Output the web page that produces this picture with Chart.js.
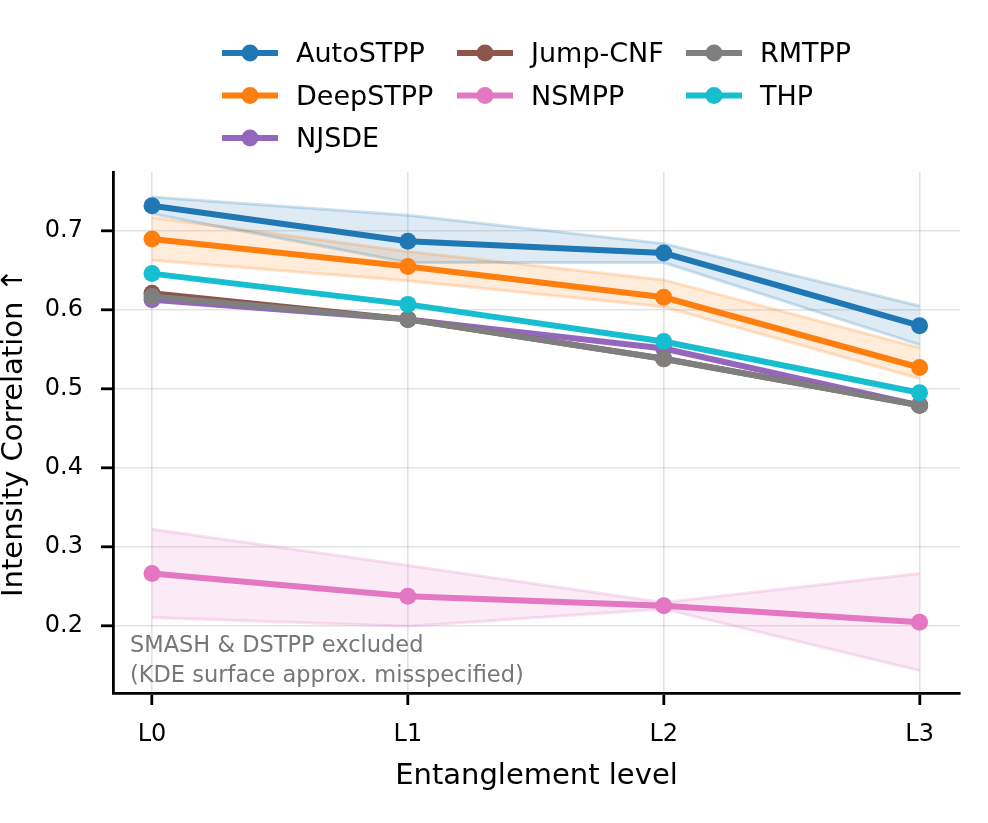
<!DOCTYPE html>
<html>
<head>
<meta charset="utf-8">
<script src="https://cdn.jsdelivr.net/npm/chart.js@4.4.1/dist/chart.umd.min.js"></script>
<style>
  body { margin: 0; background: #fff; }
  #wrap { width: 988px; height: 823px; }
</style>
</head>
<body>
<div id="wrap"><canvas id="chart" width="988" height="823"></canvas></div>
<script>
// Valores
const levels = ['L0', 'L1', 'L2', 'L3'];
const yTicks = [0.2, 0.3, 0.4, 0.5, 0.6, 0.7];

const autoSTPP     = [0.732, 0.687, 0.672, 0.580];
const autoSTPPLow  = [0.722, 0.660, 0.660, 0.556];
const autoSTPPHigh = [0.743, 0.720, 0.684, 0.605];

const deepSTPP     = [0.690, 0.655, 0.616, 0.527];
const deepSTPPLow  = [0.663, 0.637, 0.604, 0.513];
const deepSTPPHigh = [0.717, 0.674, 0.638, 0.552];

const njsde   = [0.613, 0.588, 0.551, 0.479];
const jumpCNF = [0.621, 0.588, 0.538, 0.479];

const nsmpp     = [0.266, 0.237, 0.225, 0.204];
const nsmppLow  = [0.210, 0.199, 0.221, 0.143];
const nsmppHigh = [0.322, 0.276, 0.229, 0.266];

const rmtpp = [0.617, 0.588, 0.538, 0.479];
const thp   = [0.646, 0.607, 0.560, 0.495];

const noteLines = ['SMASH & DSTPP excluded', '(KDE surface approx. misspecified)'];

const methods = [
    { name: 'AutoSTPP',  values: autoSTPP, low: autoSTPPLow, high: autoSTPPHigh, color: [31, 119, 180] },
    { name: 'DeepSTPP',  values: deepSTPP, low: deepSTPPLow, high: deepSTPPHigh, color: [255, 127, 14] },
    { name: 'NJSDE',     values: njsde,    color: [148, 103, 189] },
    { name: 'Jump-CNF',  values: jumpCNF,  color: [140, 86, 75] },
    { name: 'NSMPP',     values: nsmpp,    low: nsmppLow, high: nsmppHigh, color: [227, 119, 194] },
    { name: 'RMTPP',     values: rmtpp,    color: [127, 127, 127] },
    { name: 'THP',       values: thp,      color: [23, 190, 207] }
];

const FONT = '"DejaVu Sans", "Liberation Sans", sans-serif';

function rgba(c, a) {
    return `rgba(${c[0]}, ${c[1]}, ${c[2]}, ${a})`;
}

function toPoints(values) {
    return values.map((v, i) => ({ x: i, y: v }));
}

// Monta os datasets: faixas primeiro (embaixo), linhas depois
const datasets = [];
methods.forEach(m => {
    if (!m.low) return;
    datasets.push({
        label: m.name + ' high',
        data: toPoints(m.high),
        borderColor: rgba(m.color, 0.22),
        borderWidth: 3,
        pointRadius: 0,
        fill: false,
        order: 20
    });
    datasets.push({
        label: m.name + ' low',
        data: toPoints(m.low),
        borderColor: rgba(m.color, 0.22),
        backgroundColor: rgba(m.color, 0.15),
        borderWidth: 3,
        pointRadius: 0,
        fill: '-1',
        order: 20
    });
});
methods.forEach((m, idx) => {
    datasets.push({
        label: m.name,
        data: toPoints(m.values),
        borderColor: rgba(m.color, 1),
        backgroundColor: rgba(m.color, 1),
        borderWidth: 6,
        pointRadius: 8.5,
        pointBorderWidth: 0,
        fill: false,
        order: 10 - idx
    });
});

// Legenda em 3 colunas (preenchida por coluna, como no matplotlib)
const legendPlugin = {
    id: 'columnLegend',
    afterDraw(chart) {
        const ctx = chart.ctx;
        const colX = [222, 457, 686];
        ctx.save();
        methods.forEach((m, i) => {
            const col = i < 3 ? 0 : (i < 5 ? 1 : 2);
            const row = col === 0 ? i : (col === 1 ? i - 3 : i - 5);
            const x = colX[col];
            const y = 53 + row * 42.5;
            ctx.strokeStyle = rgba(m.color, 1);
            ctx.lineWidth = 6;
            ctx.beginPath();
            ctx.moveTo(x, y);
            ctx.lineTo(x + 56, y);
            ctx.stroke();
            ctx.fillStyle = rgba(m.color, 1);
            ctx.beginPath();
            ctx.arc(x + 28, y, 8.5, 0, Math.PI * 2);
            ctx.fill();
            ctx.fillStyle = '#000';
            ctx.font = '27px ' + FONT;
            ctx.textBaseline = 'alphabetic';
            ctx.fillText(m.name, x + 74, y + 9);
        });
        ctx.restore();
    }
};

// Nota no canto inferior esquerdo
const notePlugin = {
    id: 'note',
    afterDraw(chart) {
        const ctx = chart.ctx;
        ctx.save();
        ctx.fillStyle = '#777777';
        ctx.font = '22.5px ' + FONT;
        ctx.textBaseline = 'alphabetic';
        noteLines.forEach((t, i) => ctx.fillText(t, 130, 652 + i * 29.5));
        ctx.restore();
    }
};

new Chart(document.getElementById('chart'), {
    type: 'line',
    data: { datasets },
    plugins: [legendPlugin, notePlugin],
    options: {
        responsive: false,
        animation: false,
        layout: { padding: { top: 172, right: 28, left: 0, bottom: 0 } },
        plugins: {
            legend: { display: false },
            tooltip: { enabled: false },
            filler: { drawTime: 'beforeDatasetsDraw' }
        },
        scales: {
            x: {
                type: 'linear',
                min: -0.1525,
                max: 3.158,
                afterBuildTicks: s => { s.ticks = levels.map((_, i) => ({ value: i })); },
                afterFit: s => { s.height = 130; },
                ticks: {
                    callback: v => levels[v],
                    color: '#000',
                    padding: 15,
                    font: { family: FONT, size: 24 }
                },
                grid: {
                    color: 'rgba(176, 176, 176, 0.35)',
                    lineWidth: 1.6,
                    tickColor: '#000',
                    tickWidth: 2.8,
                    tickLength: 12
                },
                border: { color: '#000', width: 2.8 },
                title: {
                    display: true,
                    text: 'Entanglement level',
                    color: '#000',
                    font: { family: FONT, size: 29 },
                    padding: { top: 0, bottom: 29.6 }
                }
            },
            y: {
                min: 0.1144,
                max: 0.7748,
                afterBuildTicks: s => { s.ticks = yTicks.map(v => ({ value: v })); },
                afterFit: s => { s.width = 113; },
                ticks: {
                    callback: v => v.toFixed(1),
                    color: '#000',
                    padding: 18,
                    font: { family: FONT, size: 24 }
                },
                grid: {
                    color: 'rgba(176, 176, 176, 0.35)',
                    lineWidth: 1.6,
                    tickColor: '#000',
                    tickWidth: 2.8,
                    tickLength: 12
                },
                border: { color: '#000', width: 2.8 },
                title: {
                    display: true,
                    text: 'Intensity Correlation ↑',
                    color: '#000',
                    font: { family: FONT, size: 29 },
                    padding: { top: -3, bottom: 0 }
                }
            }
        }
    }
});
</script>
</body>
</html>
